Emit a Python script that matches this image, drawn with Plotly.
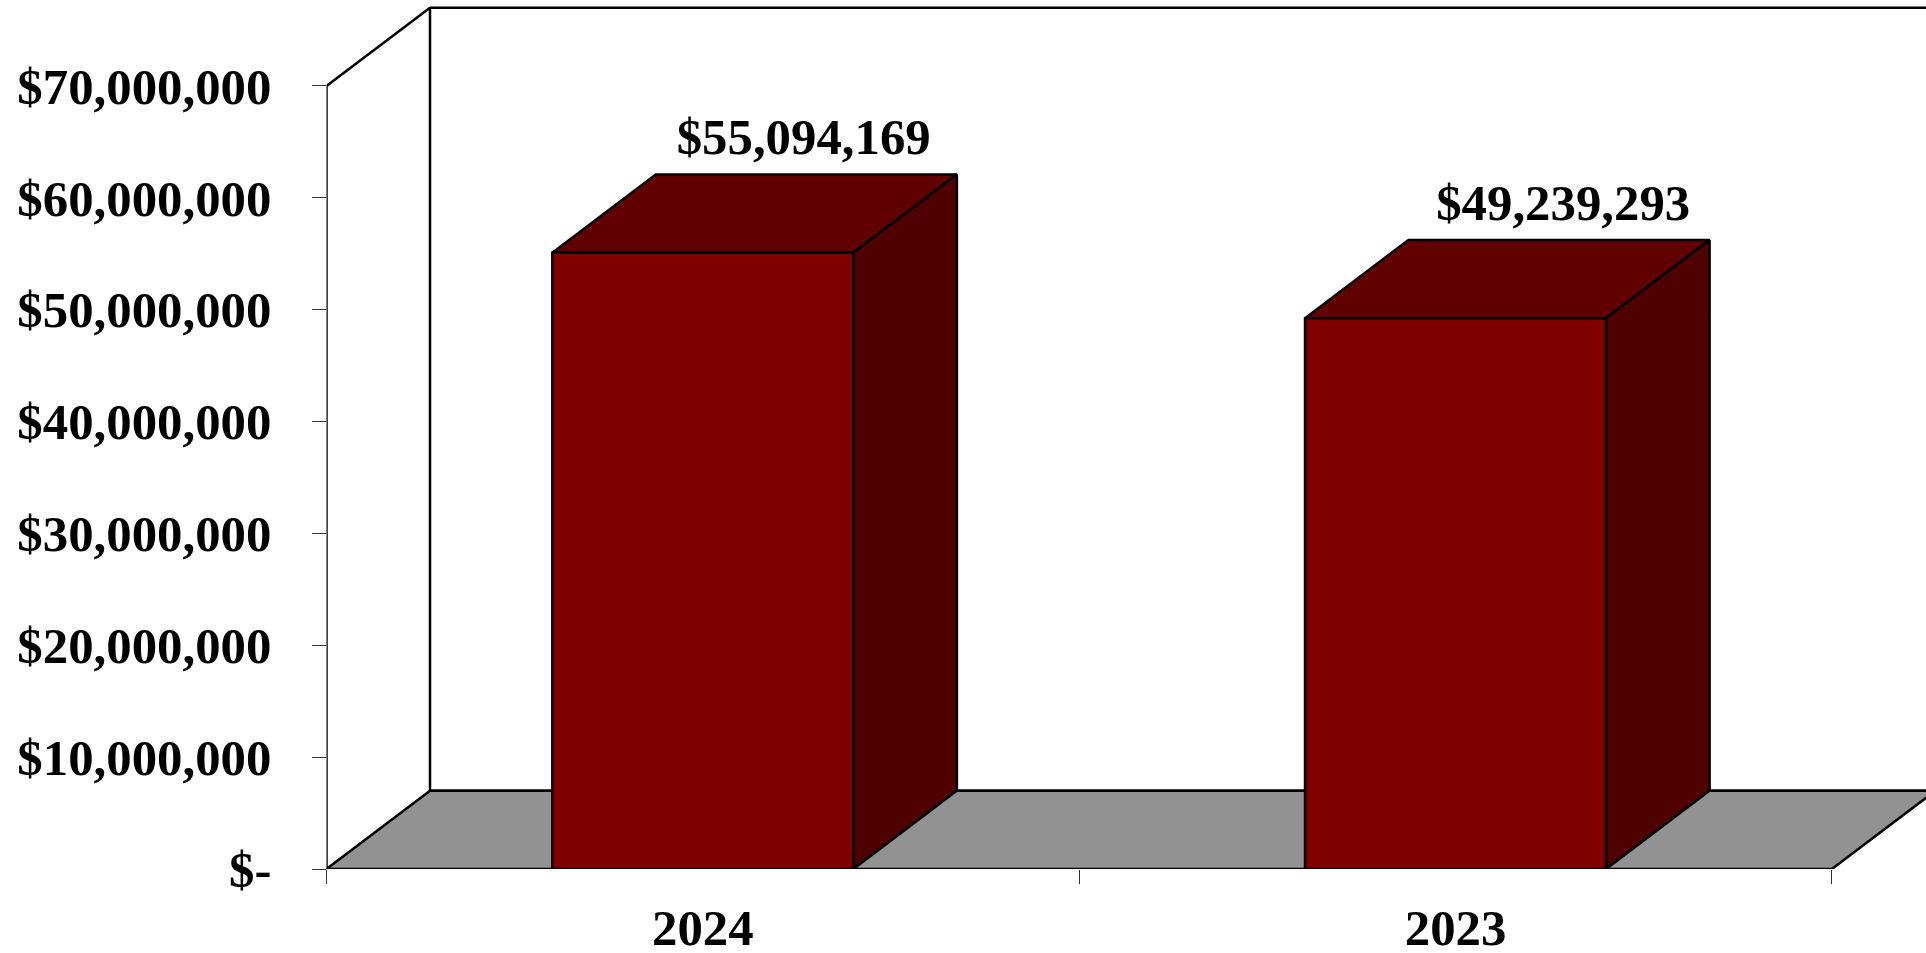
import plotly.graph_objects as go

# --- data ---
categories = ["2024", "2023"]
values = [55094169, 49239293]
value_labels = ["$55,094,169", "$49,239,293"]
label_x_nudge = [0.0, 0.009]
y_tick_values = [0, 10000000, 20000000, 30000000, 40000000, 50000000, 60000000, 70000000]
y_tick_labels = ["$-", "$10,000,000", "$20,000,000", "$30,000,000", "$40,000,000",
                 "$50,000,000", "$60,000,000", "$70,000,000"]

# --- 3D look, expressed in axis units ---
BAR_WIDTH = 0.40
DEPTH_X = 0.1375
DEPTH_Y = 7000000
LABEL_PAD = 650000
X_MIN, X_MAX = -0.5, 1.5
Y_TOP = 70000000
X_RANGE = [X_MIN, 1.625]
Y_RANGE = [0, 77150000]

FONT = "Liberation Serif"
FRONT, TOP, SIDE, FLOOR = "#800000", "#600000", "#4f0000", "#929292"
W, H = 1926, 953
FONT_SIZE = 50.8
EDGE = 2.5


def poly(xs, ys, fill=None, color="black", width=EDGE):
    return go.Scatter(
        x=xs, y=ys, mode="lines", xaxis="x", yaxis="y",
        fill="toself" if fill else "none", fillcolor=fill,
        line=dict(color=color, width=width), cliponaxis=False,
        hoverinfo="skip", showlegend=False,
    )


fig = go.Figure()

# walls
fig.add_trace(poly([X_MIN, X_MIN, X_MIN + DEPTH_X, X_MIN + DEPTH_X, X_MAX + 2 * DEPTH_X],
                   [0, Y_TOP, Y_TOP + DEPTH_Y, DEPTH_Y, DEPTH_Y]))
fig.add_trace(poly([X_MIN + DEPTH_X, X_MAX + 2 * DEPTH_X],
                   [Y_TOP + DEPTH_Y, Y_TOP + DEPTH_Y]))
# floor
fig.add_trace(poly([X_MIN, X_MAX, X_MAX + DEPTH_X, X_MIN + DEPTH_X, X_MIN],
                   [0, 0, DEPTH_Y, DEPTH_Y, 0], fill=FLOOR))

# bar top and side faces
for i, v in enumerate(values):
    l, r = i - BAR_WIDTH / 2, i + BAR_WIDTH / 2
    fig.add_trace(poly([l, r, r + DEPTH_X, l + DEPTH_X, l],
                       [v, v, v + DEPTH_Y, v + DEPTH_Y, v], fill=TOP))
    fig.add_trace(poly([r, r + DEPTH_X, r + DEPTH_X, r, r],
                       [0, DEPTH_Y, v + DEPTH_Y, v, 0], fill=SIDE))

# value labels
fig.add_trace(go.Scatter(
    x=[i + 0.134 + n for i, n in enumerate(label_x_nudge)],
    y=[v + DEPTH_Y + LABEL_PAD for v in values],
    mode="text", text=value_labels, textposition="top center",
    textfont=dict(family=FONT, size=FONT_SIZE, color="black", weight="bold"),
    xaxis="x", yaxis="y", cliponaxis=False, hoverinfo="skip", showlegend=False,
))

# bar front faces, on the overlaid category axis
fig.add_trace(go.Bar(
    x=categories, y=values, width=BAR_WIDTH, xaxis="x2", yaxis="y",
    marker=dict(color=FRONT, line=dict(color="black", width=EDGE)),
    cliponaxis=False, hoverinfo="skip", showlegend=False,
))

fig.update_layout(
    width=W, height=H,
    margin=dict(l=0, r=0, t=0, b=0, autoexpand=False),
    paper_bgcolor="white", plot_bgcolor="white",
    font=dict(family=FONT, size=FONT_SIZE, color="black"),
    showlegend=False,
    xaxis=dict(domain=[326.5 / W, 1], range=X_RANGE, visible=False, fixedrange=True),
    xaxis2=dict(
        domain=[326.5 / W, 1], range=X_RANGE, overlaying="x", anchor="y", side="bottom",
        type="category", categoryorder="array", categoryarray=categories,
        tickson="boundaries", ticks="outside", ticklen=14, tickwidth=1, tickcolor="#333333",
        showgrid=False, showline=False, zeroline=False, fixedrange=True,
        tickfont=dict(family=FONT, size=FONT_SIZE, color="black", weight="bold"),
        ticklabelstandoff=24,
    ),
    yaxis=dict(
        domain=[(H - 869) / H, (H - 6) / H], range=Y_RANGE,
        tickmode="array", tickvals=y_tick_values, ticktext=y_tick_labels,
        ticks="outside", ticklen=14, tickwidth=1, tickcolor="#333333",
        showgrid=False, showline=False, zeroline=False, fixedrange=True,
        tickfont=dict(family=FONT, size=FONT_SIZE, color="black", weight="bold"),
        ticklabelstandoff=30,
    ),
)

fig.write_html(
    "out.html",
    config=dict(displayModeBar=False),
    post_script="document.body.style.margin='0';document.body.style.overflow='hidden';",
)
